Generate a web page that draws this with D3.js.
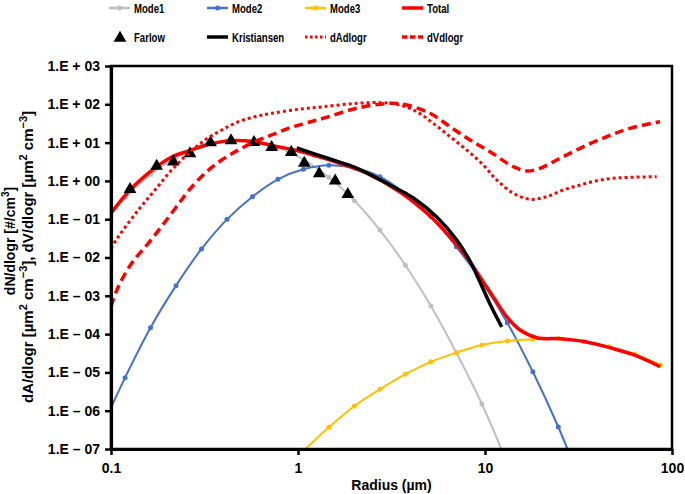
<!DOCTYPE html>
<html>
<head>
<meta charset="utf-8">
<script src="https://cdn.jsdelivr.net/npm/d3@7"></script>
<style>
body { margin: 0; background: #fff; }
text { font-family: "Liberation Sans", Arial, Helvetica, sans-serif; font-weight: bold; fill: #000; }
</style>
</head>
<body>
<svg id="chart" width="685" height="494"></svg>
<script>
// values: [radius (um), value]
var mode1 = [
	[0.0868, 0.0668], [0.1189, 0.373], [0.1627, 1.46], [0.2227, 4.06], [0.3048, 7.96],
	[0.4172, 11.0], [0.5705, 10.7], [0.7809, 7.4], [1.069, 3.62], [1.463, 1.24],
	[2.003, 0.302], [2.742, 0.0519], [3.753, 6.3e-3], [5.136, 5.38e-4], [7.03, 3.25e-5],
	[9.62, 1.5e-6], [13.16, 4.26e-8]
];
var mode2 = [
	[0.0868, 2.57e-7], [0.1189, 7.3e-6], [0.1627, 1.47e-4], [0.2227, 1.84e-3], [0.3048, 0.0167],
	[0.4172, 0.099], [0.5705, 0.387], [0.7809, 1.10], [1.069, 2.01], [1.463, 2.55],
	[2.003, 2.17], [2.742, 1.29], [3.753, 0.46], [5.136, 0.117], [7.03, 0.019],
	[9.62, 2.33e-3], [13.16, 1.99e-4], [18.02, 1.04e-5], [24.66, 3.75e-7], [33.76, 8.5e-9]
];
var mode3 = [
	[1.069, 8.9e-8], [1.463, 3.69e-7], [2.003, 1.33e-6], [2.742, 3.62e-6], [3.753, 8.97e-6],
	[5.136, 1.89e-5], [7.03, 3.27e-5], [9.62, 5.19e-5], [13.16, 6.6e-5], [18.02, 7.31e-5],
	[24.66, 7.76e-5], [33.76, 6.41e-5], [46.2, 4.69e-5], [63.2, 2.97e-5], [86.5, 1.56e-5]
];
var total = [
	[0.1, 0.143], [0.1264, 0.579], [0.1755, 2.35], [0.2112, 4.21], [0.2646, 6.22],
	[0.3383, 9.19], [0.4436, 11.3], [0.5745, 10.7], [0.7349, 8.3], [0.988, 6.2],
	[1.248, 4.47], [1.539, 3.31], [2.33, 1.6], [3.51, 0.513], [5.08, 0.121],
	[6.5, 0.0343], [7.98, 0.0103], [9.4, 3.1e-3], [11.08, 9.3e-4], [13.06, 2.85e-4],
	[15.39, 1.28e-4], [18.97, 8.05e-5], [25.2, 7.54e-5], [34.3, 6.33e-5], [46.6, 4.42e-5],
	[62.7, 2.85e-5], [86.3, 1.41e-5]
];
var farlow = [
	[0.1264, 0.603], [0.1755, 2.45], [0.2154, 3.17], [0.2646, 5.19], [0.3404, 10.06],
	[0.4383, 11.35], [0.5816, 10.2], [0.7232, 7.54], [0.921, 5.61], [1.081, 2.93],
	[1.299, 1.56], [1.581, 1.01], [1.846, 0.447]
];
var kristiansen = [
	[0.984, 7.23], [1.483, 3.73], [2.06, 2.17], [3.1, 0.782], [4.14, 0.358],
	[5.52, 0.114], [7.06, 0.0286], [8.31, 8.1e-3], [9.4, 2.29e-3], [10.63, 6.1e-4],
	[12.29, 1.53e-4]
];
var dAdlogr = [
	[0.1, 0.0174], [0.1094, 0.0349], [0.14, 0.174], [0.1718, 0.579], [0.2112, 1.93],
	[0.2591, 5.26], [0.3182, 11.7], [0.3908, 21.3], [0.4795, 35.1], [0.589, 47.5],
	[0.7232, 58.2], [1.004, 74.0], [1.366, 86.5], [2.06, 106], [2.858, 110],
	[3.51, 95.9], [4.31, 64.1], [5.29, 31.9], [6.5, 14.3], [7.98, 6.41],
	[9.79, 2.6], [11.55, 1.06], [14.17, 0.474], [17.4, 0.331], [21.38, 0.387],
	[26.2, 0.579], [32.2, 0.782], [39.6, 1.01], [48.5, 1.17], [59.6, 1.24], [82.8, 1.29]
];
var dVdlogr = [
	[0.1, 5.19e-4], [0.1094, 1.73e-3], [0.129, 7.06e-3], [0.1583, 0.0235], [0.1944, 0.0845],
	[0.2339, 0.281], [0.2591, 0.545], [0.3182, 1.58], [0.3908, 3.51], [0.4795, 6.41],
	[0.589, 10.6], [0.7232, 15.8], [0.887, 23.6], [1.09, 31.9], [1.366, 43.1],
	[2.06, 78.7], [3.1, 106], [3.81, 95.9], [5.08, 58.2], [6.5, 26.0],
	[8.31, 11.7], [10.63, 5.78], [14.17, 2.35], [16.71, 1.81], [19.68, 2.13],
	[24.17, 3.51], [32.2, 7.1], [44.8, 14.3], [59.6, 23.6], [86.3, 35.1]
];

var xTicks = [0.1, 1, 10, 100];
var xTickLabels = ["0.1", "1", "10", "100"];
var yTicks = [1e3, 1e2, 1e1, 1e0, 1e-1, 1e-2, 1e-3, 1e-4, 1e-5, 1e-6, 1e-7];
var yTickLabels = ["1.E + 03", "1.E + 02", "1.E + 01", "1.E + 00", "1.E \u2013 01", "1.E \u2013 02",
	"1.E \u2013 03", "1.E \u2013 04", "1.E \u2013 05", "1.E \u2013 06", "1.E \u2013 07"];
var legendNames = ["Mode1", "Mode2", "Mode3", "Total", "Farlow", "Kristiansen", "dAdlogr", "dVdlogr"];

var svg = d3.select("#chart");
var pLeft = 111, pRight = 672, pTop = 66, pBottom = 449;

var xScale = d3.scaleLog().domain([0.1, 100]).range([pLeft, pRight]);
var yScale = d3.scaleLog().domain([1e-7, 1e3]).range([pBottom, pTop]);

svg.append("clipPath").attr("id", "plotclip")
	.append("rect")
	.attr("x", pLeft).attr("y", pTop)
	.attr("width", pRight - pLeft).attr("height", pBottom - pTop);

var plot = svg.append("g").attr("clip-path", "url(#plotclip)");

var line = d3.line()
	.x(d => xScale(d[0]))
	.y(d => yScale(d[1]))
	.curve(d3.curveCatmullRom.alpha(0.5));

function drawLine(data, color, width, dash) {
	plot.append("path")
		.datum(data)
		.attr("d", line)
		.attr("fill", "none")
		.attr("stroke", color)
		.attr("stroke-width", width)
		.attr("stroke-linejoin", "round")
		.attr("stroke-dasharray", dash || null);
}

function drawDots(data, color, r) {
	plot.append("g")
		.selectAll("circle")
		.data(data)
		.enter()
		.append("circle")
		.attr("cx", d => xScale(d[0]))
		.attr("cy", d => yScale(d[1]))
		.attr("r", r)
		.style("fill", color);
}

var grey = "#bfbfbf", blue = "#4472c4", gold = "#ffc000", red = "#ff0000";

drawLine(mode1, grey, 2);
drawDots(mode1, grey, 2.5);
drawLine(mode2, blue, 2);
drawDots(mode2, blue, 2.5);
drawLine(mode3, gold, 2);
drawDots(mode3, gold, 2.5);
drawLine(total, red, 3.5);
drawLine(kristiansen, "#000", 3.5);

var tri = d3.symbol().type(d3.symbolTriangle).size(70);
plot.append("g")
	.selectAll("path")
	.data(farlow)
	.enter()
	.append("path")
	.attr("d", tri)
	.attr("transform", d => "translate(" + xScale(d[0]) + "," + yScale(d[1]) + ")")
	.style("fill", "#000");

drawLine(dAdlogr, red, 3, "3,3");
drawLine(dVdlogr, red, 3.5, "9,5");

// frame
svg.append("rect")
	.attr("x", pLeft).attr("y", pTop)
	.attr("width", pRight - pLeft).attr("height", pBottom - pTop)
	.attr("fill", "none")
	.attr("stroke", "#000")
	.attr("stroke-width", 2.5);

var yAxis = svg.append("g")
	.attr("transform", "translate(" + pLeft + ",0)")
	.call(d3.axisLeft(yScale).tickValues(yTicks).tickFormat((d, i) => yTickLabels[i]).tickSize(6).tickSizeOuter(0).tickPadding(5));
var xAxis = svg.append("g")
	.attr("transform", "translate(0," + pBottom + ")")
	.call(d3.axisBottom(xScale).tickValues(xTicks).tickFormat((d, i) => xTickLabels[i]).tickSize(6).tickSizeOuter(0).tickPadding(8));

[yAxis, xAxis].forEach(function(a) {
	a.select(".domain").attr("stroke", "#000").attr("stroke-width", 3.2);
	a.selectAll(".tick line").attr("stroke", "#000").attr("stroke-width", 2.5);
	a.selectAll(".tick text")
		.style("font-family", '"Liberation Sans", Arial, Helvetica, sans-serif')
		.style("font-weight", "bold")
		.style("font-size", "14px")
		.attr("fill", "#000");
});

svg.append("text")
	.attr("x", (pLeft + pRight) / 2)
	.attr("y", 490)
	.attr("text-anchor", "middle")
	.style("font-size", "14px")
	.text("Radius (\u00b5m)");

// y axis title, two lines
var t1 = svg.append("text")
	.attr("transform", "translate(15,241) rotate(-90)")
	.attr("text-anchor", "middle")
	.style("font-size", "14px");
t1.append("tspan").text("dN/dlogr [#/cm");
t1.append("tspan").attr("dy", -6).style("font-size", "10px").text("3");
t1.append("tspan").attr("dy", 6).text("]");

var t2 = svg.append("text")
	.attr("transform", "translate(33,257) rotate(-90)")
	.attr("text-anchor", "middle")
	.style("font-size", "15px");
t2.append("tspan").text("dA/dlogr [\u00b5m");
t2.append("tspan").attr("dy", -6).style("font-size", "11px").text("2");
t2.append("tspan").attr("dy", 6).text(" cm");
t2.append("tspan").attr("dy", -6).style("font-size", "11px").text("\u22123");
t2.append("tspan").attr("dy", 6).text("], dV/dlogr [\u00b5m");
t2.append("tspan").attr("dy", -6).style("font-size", "11px").text("2");
t2.append("tspan").attr("dy", 6).text(" cm");
t2.append("tspan").attr("dy", -6).style("font-size", "11px").text("\u22123");
t2.append("tspan").attr("dy", 6).text("]");

// legend
var legX = [109, 207, 305, 402];
var legY = [8, 37];
var legend = svg.append("g");
legendNames.forEach(function(name, i) {
	var col = i % 4, row = Math.floor(i / 4);
	var x0 = legX[col], y0 = legY[row];
	var g = legend.append("g");
	if (name == "Farlow") {
		g.append("path").attr("d", tri).attr("transform", "translate(" + (x0 + 11) + "," + (y0 + 1) + ")").style("fill", "#000");
	} else {
		var colors = {Mode1: grey, Mode2: blue, Mode3: gold, Total: red, Kristiansen: "#000", dAdlogr: red, dVdlogr: red};
		var widths = {Mode1: 2.5, Mode2: 2.5, Mode3: 2.5, Total: 3.5, Kristiansen: 3.5, dAdlogr: 3, dVdlogr: 3.5};
		var dashes = {dAdlogr: "2.5,2.5", dVdlogr: "5.5,2.5"};
		g.append("line")
			.attr("x1", x0).attr("x2", x0 + 21)
			.attr("y1", y0).attr("y2", y0)
			.attr("stroke", colors[name])
			.attr("stroke-width", widths[name])
			.attr("stroke-dasharray", dashes[name] || null);
		if (name.indexOf("Mode") == 0) {
			g.append("circle").attr("cx", x0 + 10.5).attr("cy", y0).attr("r", 2.5).style("fill", colors[name]);
		}
	}
	g.append("text")
		.attr("transform", "translate(" + (x0 + 25) + "," + (y0 + 4.8) + ") scale(0.71,1)")
		.style("font-size", "13.5px")
		.text(name);
});
</script>
</body>
</html>
